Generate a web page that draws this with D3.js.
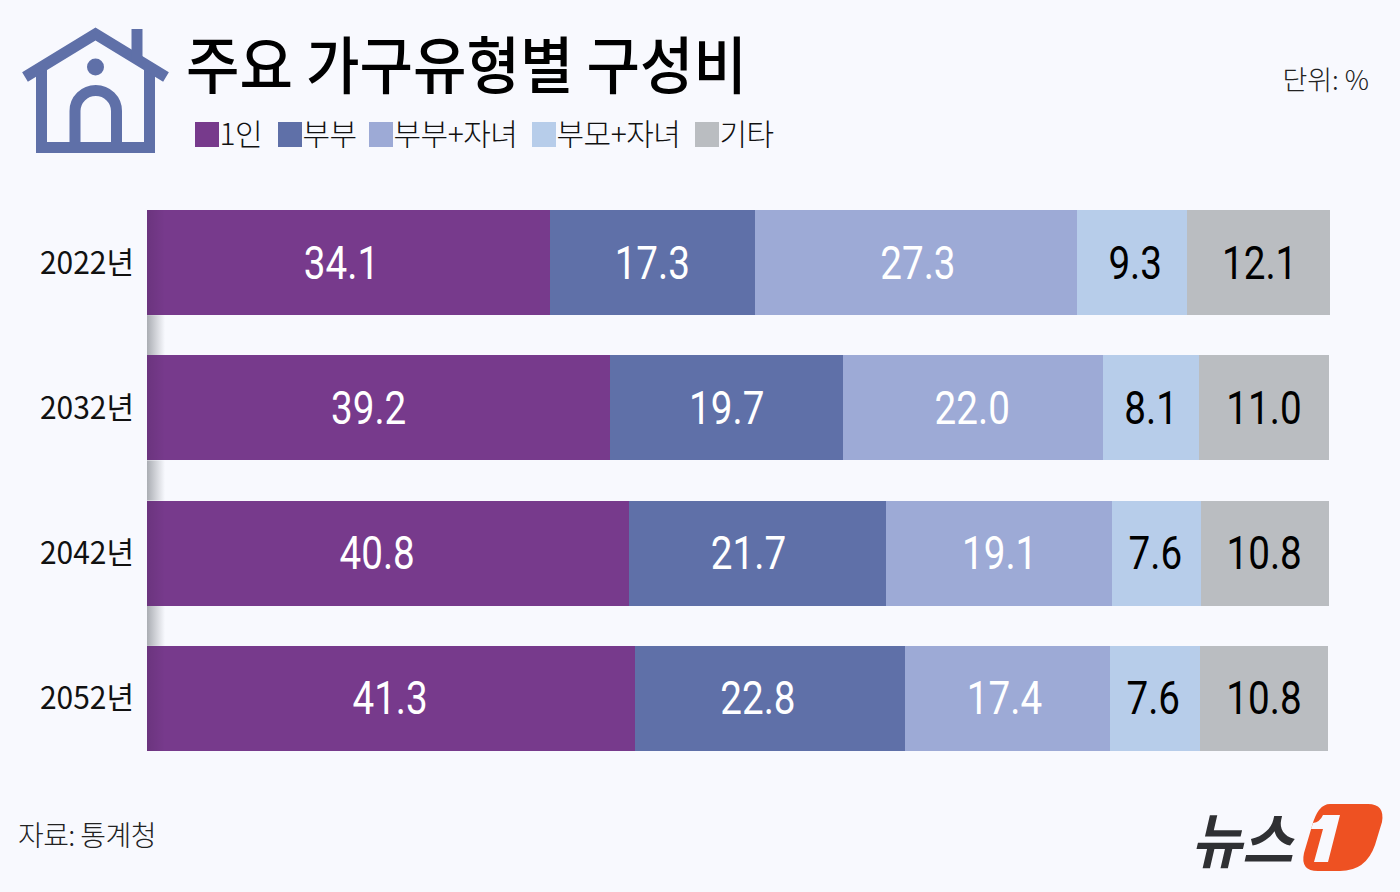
<!DOCTYPE html>
<html>
<head>
<meta charset="utf-8">
<script src="https://d3js.org/d3.v7.min.js"></script>
<style>
html, body { margin: 0; padding: 0; background: #f8f9fe; }
svg { display: block; }
text { font-family: "Noto Sans CJK KR", sans-serif; }
.num { font-family: "Roboto", sans-serif; font-size: 46px; }
</style>
</head>
<body>
<svg width="1400" height="892"></svg>
<script>
const years = ["2022년", "2032년", "2042년", "2052년"];
const groups = ["1인", "부부", "부부+자녀", "부모+자녀", "기타"];
const single = [34.1, 39.2, 40.8, 41.3];
const couple = [17.3, 19.7, 21.7, 22.8];
const coupleKids = [27.3, 22.0, 19.1, 17.4];
const parentKids = [9.3, 8.1, 7.6, 7.6];
const other = [12.1, 11.0, 10.8, 10.8];
const colors = ["#773a8c", "#5f70a8", "#9daad6", "#b7cdea", "#babdc1"];
const labelColors = ["#fff", "#fff", "#fff", "#000", "#000"];
const legendX = [195, 278, 369, 532, 695];
// the labels are not quite centred in the original, px per group and year
const labelNudge = [
    [-7, -10, -11, -1],
    [0, 0, -9, -12],
    [2, -1, 1, -3],
    [3, 0, -1, -2],
    [1, 0, -1, 0]
];

const rows = years.map((year, i) => ({
    year: year,
    "1인": single[i],
    "부부": couple[i],
    "부부+자녀": coupleKids[i],
    "부모+자녀": parentKids[i],
    "기타": other[i]
}));

let svg = d3.select("svg");

const x = d3.scaleLinear().domain([0, 100]).range([147, 1329]);
const y = d3.scaleBand().domain(years).range([210, 751]).paddingInner(0.2765);

const defs = svg.append("defs");
const grad = defs.append("linearGradient").attr("id", "gapShade");
grad.append("stop").attr("offset", "0%").attr("stop-color", "#aaadb3");
grad.append("stop").attr("offset", "100%").attr("stop-color", "#f8f9fe");
const barGrad = defs.append("linearGradient").attr("id", "barShade");
barGrad.append("stop").attr("offset", "0%").attr("stop-color", "#000").attr("stop-opacity", 0.1);
barGrad.append("stop").attr("offset", "100%").attr("stop-color", "#000").attr("stop-opacity", 0);

// shadow in the gaps next to the axis
svg.selectAll(".gap")
    .data(years.slice(1))
    .enter()
    .append("rect")
    .attr("class", "gap")
    .attr("x", x(0))
    .attr("width", 18)
    .attr("y", d => y(d) - y.step() + y.bandwidth())
    .attr("height", y.step() - y.bandwidth())
    .attr("fill", "url(#gapShade)");

// bars
const series = d3.stack().keys(groups)(rows);

const layers = svg.selectAll(".layer")
    .data(series)
    .enter()
    .append("g")
    .attr("class", "layer");

layers.selectAll("rect")
    .data(d => d)
    .enter()
    .append("rect")
    .attr("x", d => x(d[0]))
    .attr("y", d => y(d.data.year))
    .attr("width", d => x(d[1]) - x(d[0]))
    .attr("height", y.bandwidth())
    .attr("shape-rendering", "crispEdges")
    .attr("fill", function() {
        return colors[groups.indexOf(d3.select(this.parentNode).datum().key)];
    });

svg.selectAll(".barShade")
    .data(years)
    .enter()
    .append("rect")
    .attr("class", "barShade")
    .attr("x", x(0))
    .attr("width", 18)
    .attr("y", d => y(d))
    .attr("height", y.bandwidth())
    .attr("shape-rendering", "crispEdges")
    .attr("fill", "url(#barShade)");

// value labels, squeezed because no narrow font is there
svg.selectAll(".labels")
    .data(series)
    .enter()
    .append("g")
    .attr("class", "labels")
    .each(function(s, k) {
        d3.select(this).selectAll("text")
            .data(s)
            .enter()
            .append("text")
            .attr("class", "num")
            .attr("text-anchor", "middle")
            .attr("transform", (d, i) => {
                let cx = (x(d[0]) + x(d[1])) / 2 + labelNudge[k][i];
                let cy = y(d.data.year) + y.bandwidth() / 2 + 16;
                return `translate(${cx},${cy}) scale(0.84,1)`;
            })
            .attr("fill", labelColors[k])
            .text(d => (d[1] - d[0]).toFixed(1));
    });

// year labels
svg.selectAll(".year")
    .data(years)
    .enter()
    .append("text")
    .attr("class", "year")
    .attr("x", 134)
    .attr("y", d => y(d) + y.bandwidth() / 2 + 11)
    .attr("text-anchor", "end")
    .attr("font-size", 31)
    .attr("textLength", 94)
    .attr("lengthAdjust", "spacingAndGlyphs")
    .attr("fill", "#111")
    .text(d => d);

// title
svg.append("text")
    .attr("x", 186)
    .attr("y", 89)
    .attr("font-size", 62)
    .attr("font-weight", 500)
    .attr("textLength", 561)
    .attr("lengthAdjust", "spacingAndGlyphs")
    .attr("fill", "#000")
    .text("주요 가구유형별 구성비");

svg.append("text")
    .attr("x", 1369)
    .attr("y", 90)
    .attr("text-anchor", "end")
    .attr("font-size", 27)
    .attr("font-weight", 300)
    .attr("fill", "#222")
    .text("단위: %");

// legend
const legend = svg.selectAll(".legend")
    .data(groups)
    .enter()
    .append("g")
    .attr("class", "legend")
    .attr("transform", (d, i) => `translate(${legendX[i]},122)`);

legend.append("rect")
    .attr("width", 24)
    .attr("height", 25)
    .attr("fill", (d, i) => colors[i]);

legend.append("text")
    .attr("x", 24.500)
    .attr("y", 23)
    .attr("font-size", 30)
    .attr("font-weight", 300)
    .attr("letter-spacing", -0.5)
    .attr("fill", "#111")
    .text(d => d);

svg.append("text")
    .attr("x", 18)
    .attr("y", 846)
    .attr("font-size", 28)
    .attr("font-weight", 300)
    .attr("letter-spacing", -0.6)
    .attr("fill", "#222")
    .text("자료: 통계청");

// house icon
const house = svg.append("g").attr("fill", "none").attr("stroke", "#5f70a8").attr("stroke-width", 11);
house.append("path")
    .attr("d", "M41.500,70 V147.500 H149.500 V70");
house.append("path")
    .attr("d", "M25,77 L95.500,34 L166,77");
house.append("path")
    .attr("d", "M75,147 V111 A20.750,20.500 0 0 1 116.500,111 V147");
house.append("path")
    .attr("d", "M137,29 V60");
svg.append("circle").attr("cx", 95.500).attr("cy", 67).attr("r", 8.500).attr("fill", "#5f70a8");

// logo
svg.append("text")
    .attr("x", 1191)
    .attr("y", 863)
    .attr("font-size", 60)
    .attr("font-weight", 700)
    .attr("font-style", "italic")
    .attr("textLength", 102)
    .attr("lengthAdjust", "spacingAndGlyphs")
    .attr("fill", "#2f3033")
    .text("뉴스");
svg.append("path")
    .attr("fill", "#ee5122")
    .attr("d", "M1330,804 H1368 Q1385,804 1382,822 L1375,845 Q1366,871 1340,871 H1318 Q1300,871 1304,853 L1312,826 Q1318,804 1330,804 Z");
svg.append("path")
    .attr("fill", "#f8f9fe")
    .attr("d", "M1323,815 H1340 L1328,862 H1314 L1323,829 H1311 L1313,823 Q1320,822 1323,815 Z");
</script>
</body>
</html>
